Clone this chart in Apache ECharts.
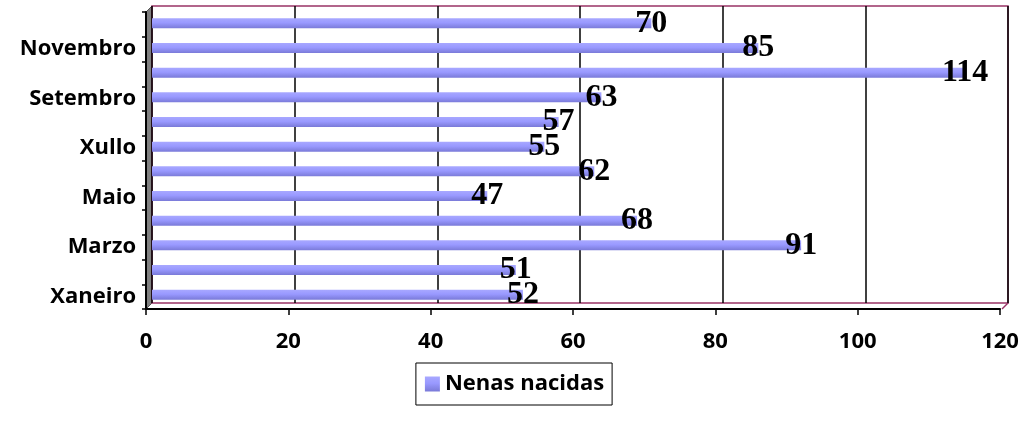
<!DOCTYPE html>
<html>
<head>
<meta charset="utf-8">
<script src="https://cdn.jsdelivr.net/npm/echarts@6/dist/echarts.min.js"></script>
<style>
html,body{margin:0;padding:0;background:#fff;}
#chart{width:1029px;height:429px;}
</style>
</head>
<body>
<div id="chart"></div>
<script>
var months = ['Xaneiro','Febreiro','Marzo','Abril','Maio','Xuño','Xullo','Agosto','Setembro','Outubro','Novembro','Decembro'];
var nenas = [52,51,91,68,47,62,55,57,63,114,85,70];
var seriesName = 'Nenas nacidas';
var xTicks = {min: 0, max: 120, interval: 20};

var chart = echarts.init(document.getElementById('chart'), null, {renderer: 'canvas'});
var uiFont = 'Open Sans';
var option = {
  animation: false,
  backgroundColor: '#ffffff',
  grid: [
    {left: 152, right: 21, top: 6, bottom: 126, show: true, borderColor: '#993366', borderWidth: 1.5, backgroundColor: '#ffffff'},
    {left: 152, right: 21, top: 11, bottom: 122},
    {left: 146, right: 29, top: 12, bottom: 120}
  ],
  xAxis: [
    {gridIndex: 0, type: 'value', min: xTicks.min, max: xTicks.max, interval: xTicks.interval,
     axisLine: {show: false}, axisTick: {show: false}, axisLabel: {show: false},
     splitLine: {show: true, lineStyle: {color: '#000', width: 1.5}}},
    {gridIndex: 1, type: 'value', min: xTicks.min, max: xTicks.max, show: false},
    {gridIndex: 2, type: 'value', min: xTicks.min, max: xTicks.max, interval: xTicks.interval,
     axisLine: {show: true, lineStyle: {color: '#000', width: 2}},
     axisTick: {show: true, length: 6, inside: false, lineStyle: {color: '#000', width: 1.5}},
     splitLine: {show: false},
     axisLabel: {color: '#000', fontFamily: uiFont, fontWeight: 'bold', fontSize: 22, margin: 22}}
  ],
  yAxis: [
    {gridIndex: 0, type: 'category', data: months, show: false},
    {gridIndex: 1, type: 'category', data: months, show: false},
    {gridIndex: 2, type: 'category', data: months, boundaryGap: true,
     axisLine: {show: true, lineStyle: {color: '#000', width: 2}},
     axisTick: {show: true, interval: 0, length: 4, inside: false, alignWithLabel: false, lineStyle: {color: '#000', width: 1.5}},
     splitLine: {show: false},
     axisLabel: {interval: 1, color: '#000', fontFamily: uiFont, fontWeight: 'bold', fontSize: 22, margin: 10}}
  ],
  legend: {
    show: true, left: 'center', top: 363,
    data: [seriesName],
    borderColor: '#000', borderWidth: 1,
    padding: [10, 8, 10, 9],
    itemWidth: 15, itemHeight: 15, itemGap: 7,
    icon: 'rect',
    textStyle: {color: '#000', fontFamily: uiFont, fontWeight: 'bold', fontSize: 22}
  },
  graphic: [
    {type: 'polygon', z: -1, shape: {points: [[146,12],[152,6],[152,303],[146,309]]},
     style: {fill: '#808080', stroke: '#555', lineWidth: 1}},
    {type: 'line', shape: {x1: 1002, y1: 309, x2: 1008, y2: 303}, style: {stroke: '#993366', lineWidth: 1.5}}
  ],
  series: [
    {
      name: seriesName, type: 'bar', xAxisIndex: 1, yAxisIndex: 1,
      data: nenas, barWidth: 10,
      itemStyle: {
        color: new echarts.graphic.LinearGradient(0, 0, 0, 1, [
          {offset: 0, color: '#a8a8ff'},
          {offset: 0.45, color: '#9999ff'},
          {offset: 1, color: '#7a7ad8'}
        ])
      },
      label: {
        show: true, position: ['100%', '50%'], align: 'center', verticalAlign: 'middle',
        color: '#000', fontFamily: 'Liberation Serif', fontWeight: 'bold', fontSize: 32
      }
    }
  ]
};
chart.setOption(option);
</script>
</body>
</html>
